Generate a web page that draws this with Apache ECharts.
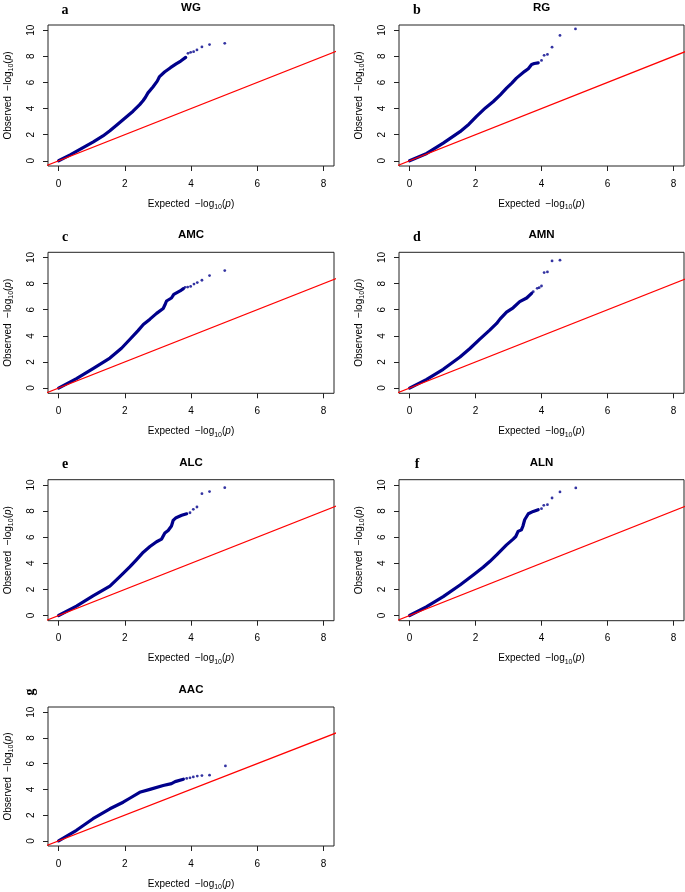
<!DOCTYPE html>
<html>
<head>
<meta charset="utf-8">
<script src="https://cdn.jsdelivr.net/npm/echarts@6/dist/echarts.min.js"></script>
<style>html,body{margin:0;padding:0;background:#fff;}#c{width:685px;height:892px;}</style>
</head>
<body>
<div id="c"></div>
<script>
// ---- data ----
const panelTitles = ['WG', 'RG', 'AMC', 'AMN', 'ALC', 'ALN', 'AAC'];
const panelLetters = ['a', 'b', 'c', 'd', 'e', 'f', 'g'];
const xTicks = [0, 2, 4, 6, 8];
const yTicks = [0, 2, 4, 6, 8, 10];
const refLine = [-1, 9];

const wgCurve = [[0,0],[0.35,0.45],[0.74,1.0],[1.05,1.45],[1.34,1.9],[1.55,2.3],[1.75,2.72],[2.0,3.25],[2.25,3.8],[2.45,4.3],[2.55,4.6],[2.62,4.85],[2.7,5.2],[2.85,5.65],[2.98,6.1],[3.05,6.45],[3.2,6.8],[3.38,7.13],[3.55,7.42],[3.69,7.64],[3.84,7.92]];
const wgTail = [[3.91,8.23],[3.99,8.31],[4.08,8.36],[4.18,8.49],[4.33,8.72],[4.56,8.9],[5.02,9.0]];

const rgCurve = [[0,0],[0.52,0.56],[1.02,1.35],[1.53,2.23],[1.8,2.8],[2.03,3.4],[2.3,4.05],[2.54,4.54],[2.75,5.05],[2.94,5.56],[3.1,5.95],[3.24,6.33],[3.49,6.85],[3.6,7.05],[3.7,7.38],[3.78,7.45],[3.9,7.5]];
const rgTail = [[4.0,7.69],[4.08,8.08],[4.18,8.15],[4.32,8.7],[4.56,9.6],[5.03,10.1]];

const amcCurve = [[0,0],[0.54,0.72],[1.04,1.49],[1.55,2.3],[1.9,3.05],[2.15,3.72],[2.4,4.4],[2.56,4.87],[2.76,5.28],[2.96,5.72],[3.16,6.1],[3.21,6.36],[3.26,6.67],[3.41,6.9],[3.48,7.18],[3.67,7.44],[3.77,7.62]];
const amcTail = [[3.82,7.72],[3.9,7.74],[3.99,7.79],[4.09,7.97],[4.19,8.08],[4.33,8.26],[4.56,8.62],[5.02,9.0]];

const amnCurve = [[0,0],[0.52,0.67],[1.02,1.44],[1.53,2.38],[1.83,3.03],[2.13,3.75],[2.43,4.44],[2.64,4.95],[2.74,5.28],[2.94,5.82],[3.14,6.15],[3.34,6.62],[3.55,6.9],[3.7,7.26]];
const amnTail = [[3.75,7.38],[3.87,7.64],[3.93,7.69],[4.0,7.82],[4.08,8.85],[4.18,8.9],[4.32,9.74],[4.56,9.8]];

const alcCurve = [[0,0],[0.54,0.72],[1.04,1.5],[1.55,2.25],[1.85,2.97],[2.15,3.72],[2.35,4.26],[2.56,4.85],[2.76,5.28],[2.96,5.65],[3.11,5.85],[3.21,6.31],[3.31,6.51],[3.41,6.85],[3.46,7.28],[3.55,7.49],[3.72,7.67],[3.87,7.79]];
const alcTail = [[3.97,7.87],[4.07,8.13],[4.18,8.31],[4.33,9.33],[4.56,9.49],[5.02,9.79]];

const alnCurve = [[0,0],[0.52,0.67],[1.02,1.44],[1.53,2.33],[1.93,3.1],[2.23,3.69],[2.43,4.13],[2.64,4.64],[2.94,5.41],[3.14,5.85],[3.22,6.05],[3.29,6.44],[3.39,6.56],[3.44,6.87],[3.49,7.33],[3.6,7.79],[3.75,7.97],[3.9,8.1]];
const alnTail = [[4.0,8.18],[4.07,8.44],[4.18,8.49],[4.32,9.0],[4.56,9.46],[5.04,9.77]];

const aacCurve = [[0,0],[0.54,0.82],[1.04,1.72],[1.55,2.49],[1.95,3.0],[2.15,3.31],[2.45,3.77],[2.76,4.0],[3.16,4.3],[3.41,4.45],[3.52,4.6],[3.77,4.79]];
const aacTail = [[3.87,4.85],[3.97,4.9],[4.07,4.97],[4.19,5.03],[4.33,5.07],[4.56,5.1],[5.04,5.82]];

const curves = [wgCurve, rgCurve, amcCurve, amnCurve, alcCurve, alnCurve, aacCurve];
const tails = [wgTail, rgTail, amcTail, amnTail, alcTail, alnTail, aacTail];

// ---- layout ----
const colLeft = [48, 399];
const colWidth = [286, 285];
const rowTop = [25, 252.3, 479.7, 707];
const plotH = 141;
const FONT = '"Liberation Sans", Arial, sans-serif';
const SERIF = '"Liberation Serif", "Times New Roman", serif';
const NAVY = '#00008B';

const grids = [], xAxes = [], yAxes = [], series = [], graphics = [];
const nameRich = {
  a: {fontFamily: FONT, fontSize: 10, color: '#000', lineHeight: 14},
  s: {fontFamily: FONT, fontSize: 7, color: '#000', lineHeight: 14, verticalAlign: 'bottom'},
  i: {fontFamily: FONT, fontSize: 10, color: '#000', fontStyle: 'italic', lineHeight: 14}
};

panelTitles.forEach((t, k) => {
  const col = k % 2, row = Math.floor(k / 2);
  const left = colLeft[col], top = rowTop[row], w = colWidth[col];
  grids.push({left: left, top: top, width: w, height: plotH, show: true,
    borderColor: '#222', borderWidth: 1, backgroundColor: 'transparent', containLabel: false});
  xAxes.push({gridIndex: k, type: 'value', min: -0.32, max: 8.32, position: 'bottom',
    axisLine: {show: false, onZero: false},
    axisTick: {show: true, inside: false, length: 5, customValues: xTicks, lineStyle: {color: '#222', width: 1}},
    axisLabel: {customValues: xTicks, fontFamily: FONT, fontSize: 10, color: '#000', margin: 13},
    splitLine: {show: false},
    name: '{a|Expected  \u2212log}{s|10}{a|(}{i|p}{a|)}',
    nameLocation: 'middle', nameGap: 31, nameTextStyle: {rich: nameRich}
  });
  yAxes.push({gridIndex: k, type: 'value', min: -0.4, max: 10.4, position: 'left',
    axisLine: {show: false, onZero: false},
    axisTick: {show: true, inside: false, length: 5, customValues: yTicks, lineStyle: {color: '#222', width: 1}},
    axisLabel: {customValues: yTicks, fontFamily: FONT, fontSize: 10, color: '#000', rotate: 90, margin: 12},
    splitLine: {show: false},
    name: '{a|Observed  \u2212log}{s|10}{a|(}{i|p}{a|)}',
    nameLocation: 'middle', nameGap: 33, nameTextStyle: {rich: nameRich}
  });
  series.push({type: 'line', xAxisIndex: k, yAxisIndex: k, data: curves[k], showSymbol: false,
    lineStyle: {color: NAVY, width: 3.2, cap: 'round', join: 'round'}, z: 2, silent: true, animation: false});
  series.push({type: 'scatter', xAxisIndex: k, yAxisIndex: k, data: tails[k], symbol: 'circle', symbolSize: 2.8,
    itemStyle: {color: NAVY}, z: 2, silent: true, animation: false});
  series.push({type: 'line', xAxisIndex: k, yAxisIndex: k, data: refLine.map(v => [v, v]), showSymbol: false,
    clip: true, lineStyle: {color: '#FF0000', width: 1.2}, z: 3, silent: true, animation: false});

  graphics.push({type: 'text', x: left + w / 2, y: top - 17,
    style: {text: t, font: 'bold 11.5px ' + FONT, fill: '#000', textAlign: 'center', textVerticalAlign: 'middle'}});
  if (k < 6) {
    graphics.push({type: 'text', x: col === 0 ? 65 : 417, y: top - 15,
      style: {text: panelLetters[k], font: 'bold 14px ' + SERIF, fill: '#000', textAlign: 'center', textVerticalAlign: 'middle'}});
  } else {
    graphics.push({type: 'text', x: 30, y: top - 15, rotation: Math.PI / 2,
      style: {text: panelLetters[k], font: 'bold 14px ' + SERIF, fill: '#000', textAlign: 'center', textVerticalAlign: 'middle'}});
  }
});

const chart = echarts.init(document.getElementById('c'), null, {renderer: 'canvas'});
chart.setOption({
  animation: false,
  backgroundColor: '#fff',
  grid: grids, xAxis: xAxes, yAxis: yAxes, series: series, graphic: graphics
});
</script>
</body>
</html>
